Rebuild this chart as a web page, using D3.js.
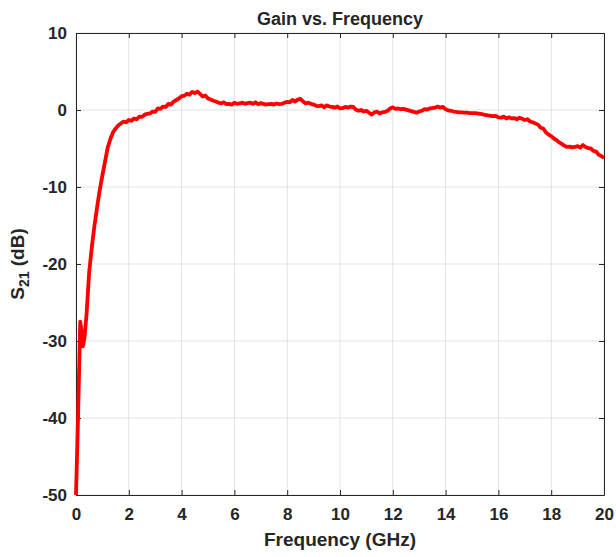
<!DOCTYPE html>
<html>
<head>
  <meta charset="utf-8">
  <title>Gain vs. Frequency</title>
  <script src="https://d3js.org/d3.v7.min.js"></script>
  <style>
    body { margin: 0; background: #fff; }
    text { font-family: "Liberation Sans", Arial, sans-serif; font-weight: bold; fill: #262626; }
    .grid line { stroke: #e3e3e3; stroke-width: 1; }
  </style>
</head>
<body>
<div id="chart"></div>
<script>
// data
var freq = [0, 0.08, 0.16, 0.2, 0.26, 0.32, 0.4,
  0.5, 0.6, 0.7, 0.8, 0.9, 1.0, 1.1, 1.2, 1.3, 1.4, 1.5, 1.6, 1.7, 1.8, 1.9,
  2.0, 2.1, 2.2, 2.3, 2.4, 2.5, 2.6, 2.7, 2.8, 2.9,
  3.0, 3.1, 3.2, 3.3, 3.4, 3.5, 3.6, 3.7, 3.8, 3.9,
  4.0, 4.1, 4.2, 4.3, 4.4, 4.5, 4.6, 4.7, 4.8, 4.9,
  5.0, 5.1, 5.2, 5.3, 5.4, 5.5, 5.6, 5.7, 5.8, 5.9,
  6.0, 6.1, 6.2, 6.3, 6.4, 6.5, 6.6, 6.7, 6.8, 6.9,
  7.0, 7.1, 7.2, 7.3, 7.4, 7.5, 7.6, 7.7, 7.8, 7.9,
  8.0, 8.1, 8.2, 8.3, 8.4, 8.5, 8.6, 8.7, 8.8, 8.9,
  9.0, 9.1, 9.2, 9.3, 9.4, 9.5, 9.6, 9.7, 9.8, 9.9,
  10.0, 10.1, 10.2, 10.3, 10.4, 10.5, 10.6, 10.7, 10.8, 10.9,
  11.0, 11.1, 11.2, 11.3, 11.4, 11.5, 11.6, 11.7, 11.8, 11.9,
  12.0, 12.1, 12.2, 12.3, 12.4, 12.5, 12.6, 12.7, 12.8, 12.9,
  13.0, 13.1, 13.2, 13.3, 13.4, 13.5, 13.6, 13.7, 13.8, 13.9,
  14.0, 14.1, 14.2, 14.3, 14.4, 14.5, 14.6, 14.7, 14.8, 14.9,
  15.0, 15.1, 15.2, 15.3, 15.4, 15.5, 15.6, 15.7, 15.8, 15.9,
  16.0, 16.1, 16.2, 16.3, 16.4, 16.5, 16.6, 16.7, 16.8, 16.9,
  17.0, 17.1, 17.2, 17.3, 17.4, 17.5, 17.6, 17.7, 17.8, 17.9,
  18.0, 18.1, 18.2, 18.3, 18.4, 18.5, 18.6, 18.7, 18.8, 18.9,
  19.0, 19.1, 19.2, 19.3, 19.4, 19.5, 19.6, 19.7, 19.8, 19.9, 20.0];

var gain = [-50, -39.5, -27.5, -28.5, -30.7, -29.6, -26.5,
  -21.0, -17.8, -15.0, -12.6, -10.4, -8.5, -6.7, -4.9, -3.8, -2.9, -2.4, -2.0, -1.75, -1.5, -1.6,
  -1.3, -1.4, -1.1, -1.2, -0.85, -0.9, -0.6, -0.5, -0.45, -0.2,
  -0.25, 0.2, 0.15, 0.45, 0.4, 0.8, 0.7, 1.1, 1.3, 1.5,
  1.8, 1.85, 2.1, 2.0, 2.35, 2.2, 2.4, 2.1, 1.75, 1.9,
  1.5, 1.35, 1.2, 1.1, 0.95, 0.85, 1.0, 0.75, 0.8, 0.7,
  0.95, 0.8, 0.85, 0.95, 0.8, 0.9, 0.95, 0.8, 1.0, 0.75,
  0.9, 0.8, 0.7, 0.75, 0.8, 0.7, 0.85, 0.75, 0.8, 0.95,
  1.05, 1.0, 1.3, 1.1, 1.35, 1.45, 1.1, 0.85, 0.95, 0.8,
  0.7, 0.55, 0.5, 0.6, 0.35, 0.6, 0.45, 0.4, 0.3, 0.45,
  0.2, 0.25, 0.4, 0.3, 0.45, 0.4, 0.05, -0.1, 0.0, -0.2,
  -0.1, -0.35, -0.6, -0.3, -0.2, -0.45, -0.3, -0.25, -0.1, 0.2,
  0.35, 0.15, 0.2, 0.1, 0.15, 0.05, -0.05, -0.15, -0.25, -0.35,
  -0.2, -0.1, 0.1, 0.05, 0.2, 0.25, 0.3, 0.45, 0.3, 0.4,
  0.1, -0.05, -0.1, -0.2, -0.25, -0.3, -0.3, -0.35, -0.35, -0.4,
  -0.4, -0.4, -0.45, -0.5, -0.55, -0.65, -0.7, -0.75, -0.8, -0.75,
  -0.95, -1.0, -0.85, -1.1, -0.95, -1.1, -1.05, -1.2, -1.0, -1.15,
  -1.3, -1.2, -1.5, -1.6, -1.75, -1.9, -2.3, -2.4, -2.9, -3.2,
  -3.4, -3.7, -3.9, -4.2, -4.4, -4.65, -4.8, -4.75, -4.85, -4.8,
  -4.7, -4.9, -4.55, -4.8, -4.95, -5.0, -5.3, -5.4, -5.8, -6.0, -6.2];

var xTicks = [0, 2, 4, 6, 8, 10, 12, 14, 16, 18, 20];
var yTicks = [-50, -40, -30, -20, -10, 0, 10];

var W = 616, H = 557;
var margin = { top: 33, right: 12, bottom: 62, left: 76 };
var width = W - margin.left - margin.right,
    height = H - margin.top - margin.bottom;

var svg = d3.select("#chart").append("svg")
  .attr("width", W).attr("height", H);
var g = svg.append("g")
  .attr("transform", "translate(" + margin.left + "," + margin.top + ")");

var x = d3.scaleLinear().domain([0, 20]).range([0, width]);
var y = d3.scaleLinear().domain([-50, 10]).range([height, 0]);

// grid
g.append("g").attr("class", "grid")
  .selectAll("line").data(xTicks).join("line")
  .attr("x1", d => x(d)).attr("x2", d => x(d))
  .attr("y1", 0).attr("y2", height);
g.append("g").attr("class", "grid")
  .selectAll("line").data(yTicks).join("line")
  .attr("y1", d => y(d)).attr("y2", d => y(d))
  .attr("x1", 0).attr("x2", width);

// axes (ticks pointing inward, box on)
function styleAxis(sel) {
  sel.select(".domain").attr("stroke", "#262626");
  sel.selectAll(".tick line").attr("stroke", "#262626");
}
var plain = d => String(d);   // plain hyphen for negatives, like the original
g.append("g").attr("transform", "translate(0," + height + ")")
  .call(d3.axisBottom(x).tickValues(xTicks).tickSize(-5).tickSizeOuter(0).tickPadding(13).tickFormat(plain))
  .call(styleAxis);
g.append("g")
  .call(d3.axisLeft(y).tickValues(yTicks).tickSize(-5).tickSizeOuter(0).tickPadding(9).tickFormat(plain))
  .call(styleAxis);
g.append("g")
  .call(d3.axisTop(x).tickValues(xTicks).tickSize(-5).tickSizeOuter(0).tickFormat(""))
  .call(styleAxis);
g.append("g").attr("transform", "translate(" + width + ",0)")
  .call(d3.axisRight(y).tickValues(yTicks).tickSize(-5).tickSizeOuter(0).tickFormat(""))
  .call(styleAxis);

g.selectAll(".tick text").style("font-size", "17px").style("font-family", "Liberation Sans, Arial, sans-serif")
  .style("font-weight", "bold").attr("fill", "#262626");

// curve
var pts = freq.map((f, i) => [f, gain[i]]);
g.append("path").datum(pts)
  .attr("fill", "none")
  .attr("stroke", "#ff0000")
  .attr("stroke-width", 3.8)
  .attr("stroke-linejoin", "round")
  .attr("d", d3.line().x(d => x(d[0])).y(d => y(d[1])));

// title and labels
svg.append("text")
  .attr("x", margin.left + width / 2).attr("y", 25)
  .attr("text-anchor", "middle").style("font-size", "18px")
  .text("Gain vs. Frequency");

svg.append("text")
  .attr("x", margin.left + width / 2).attr("y", 546)
  .attr("text-anchor", "middle").style("font-size", "19px")
  .text("Frequency (GHz)");

var yl = svg.append("text")
  .attr("transform", "translate(24," + (margin.top + height / 2) + ") rotate(-90)")
  .attr("text-anchor", "middle").style("font-size", "19px");
yl.append("tspan").text("S");
yl.append("tspan").attr("dy", 5).style("font-size", "14px").text("21");
yl.append("tspan").attr("dy", -5).text(" (dB)");
</script>
</body>
</html>
